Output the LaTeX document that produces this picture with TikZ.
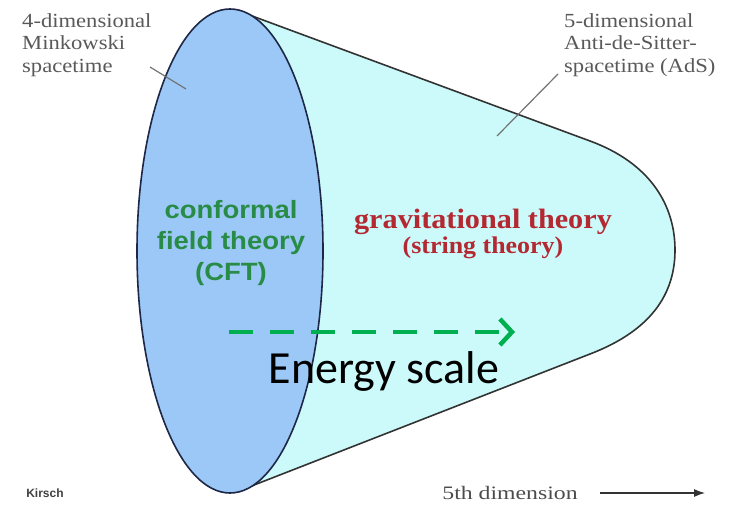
\documentclass[tikz,border=0pt]{standalone}
\usepackage{fontspec}
\usepackage{xcolor}
\usetikzlibrary{arrows.meta}
\setmainfont{Liberation Serif}
\newfontfamily\greyserif[FakeStretch=1.13]{Liberation Serif}
\newfontfamily\dimserif[FakeStretch=1.25]{Liberation Serif}
\newfontfamily\redserif[FakeStretch=1.08]{Liberation Serif}
\newfontfamily\cftsans[FakeStretch=1.1]{Liberation Sans}
\newfontfamily\labelsans{Liberation Sans}
\newfontfamily\calsans{Carlito}
\definecolor{discblue}{RGB}{156,200,248}
\definecolor{bulkcyan}{RGB}{204,250,250}
\definecolor{cftgreen}{RGB}{40,140,70}
\definecolor{gravred}{RGB}{180,40,50}
\definecolor{energygreen}{RGB}{0,176,80}
\definecolor{rimnavy}{RGB}{30,40,70}

\begin{document}
\begin{tikzpicture}[>=latex, x=1pt, y=-1pt,
  every node/.style={inner sep=0pt},
  greylabel/.style={text=black!65, font=\greyserif\fontsize{20}{22.5}\selectfont, align=left, anchor=west},
  leader/.style={black!55, line width=1.2pt}]
  \useasboundingbox (0,0) rectangle (741,505);

  % The AdS bulk (cone)
  \filldraw[fill=bulkcyan, draw=black!80, line width=1.6pt]
    (240,11.5) -- (590,141) .. controls (650,163) and (675,205) .. (675,250)
    .. controls (675,295) and (650,331) .. (590,354) -- (240,490.5) -- cycle;

  % The boundary disc
  \filldraw[fill=discblue, draw=rimnavy, line width=1.6pt]
    (230,251) ellipse [x radius=93, y radius=242];

  % Labels at the top
  \node[greylabel] (mink) at (22,45) {4-dimensional\\Minkowski\\spacetime};
  \node[greylabel] (ads) at (564,45) {5-dimensional\\Anti-de-Sitter-\\spacetime (AdS)};
  \coordinate (minkA) at (150,67);
  \coordinate (minkB) at (186,89);
  \coordinate (adsA) at (558,74);
  \coordinate (adsB) at (497,136);
  \draw[leader] (minkA) -- (minkB);
  \draw[leader] (adsA) -- (adsB);

  % Theories
  \node[text=cftgreen, align=center, font=\cftsans\bfseries\fontsize{25}{31}\selectfont]
    (cft) at (231,243) {conformal\\field theory\\(CFT)};
  \node[text=gravred, font=\redserif\bfseries\fontsize{28}{30}\selectfont] (grav) at (483,222) {gravitational theory};
  \node[text=gravred, font=\redserif\bfseries\fontsize{24}{26}\selectfont] (string) at (483,248) {(string theory)};

  % Energy scale
  \coordinate (eA) at (229,332);
  \coordinate (eB) at (515,332);
  \draw[energygreen, line width=4.5pt, dash pattern=on 24pt off 17pt,
    -{Straight Barb[length=12pt, width=26pt, line width=4.5pt]}] (eA) -- (eB);
  \node[font=\calsans\fontsize{46}{50}\selectfont] (energy) at (384,371) {Energy scale};

  % Bottom line
  \node[font=\labelsans\bfseries\fontsize{12}{14}\selectfont, text=black!75] (kirsch) at (45,493) {Kirsch};
  \node[text=black!70, font=\dimserif\fontsize{19}{21}\selectfont] (fifth) at (510,493) {5th dimension};
  \coordinate (dimA) at (600,493);
  \coordinate (dimB) at (705,493);
  \draw[-{Latex[length=11pt, width=8pt]}, line width=1.2pt, black!80] (dimA) -- (dimB);
\end{tikzpicture}
\end{document}
